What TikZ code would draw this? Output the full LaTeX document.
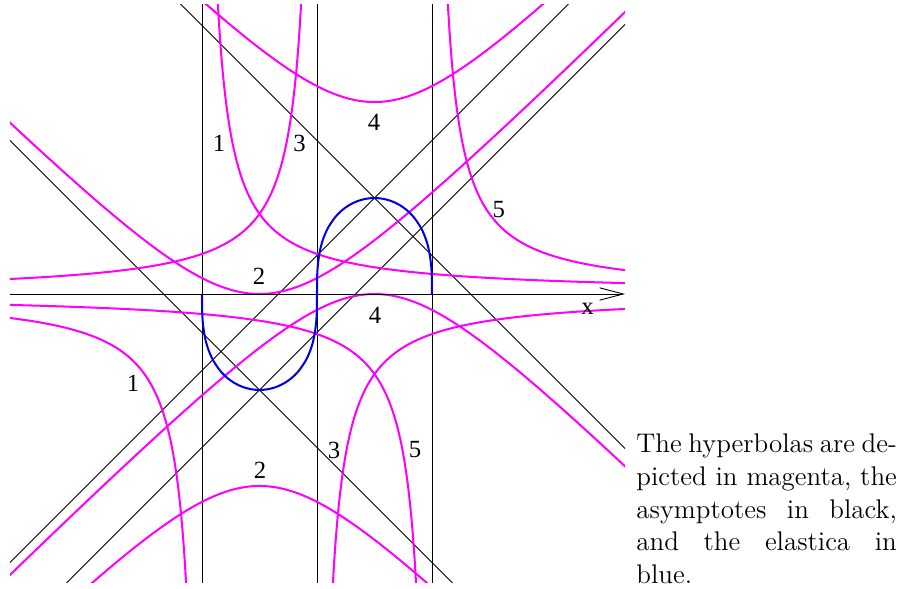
\documentclass[12pt,tikz,border=0pt]{standalone}
\usepackage{fontspec}
\newfontfamily\figfont{Liberation Serif}
\usetikzlibrary{arrows.meta}

\definecolor{hypmag}{RGB}{255,0,255}
\definecolor{elblue}{RGB}{0,0,230}
\newcommand{\elh}{1.66926}   % height of one elastica lobe
\newcommand{\elc}{1.18036}   % xy = \elc^2 for the tilted hyperbolas

\begin{document}
\begin{tikzpicture}[x=0.9cm, y=0.9cm,
    hyp/.style={hypmag, line width=0.9pt},
    asym/.style={black, thin},
    elastica/.style={elblue, line width=0.9pt},
    xaxis/.style={black, thin, -{Straight Barb[length=10.5pt, width=5.5pt]}},
    lbl/.style={font=\figfont\fontsize{11}{13}\selectfont, inner sep=0pt},
    lobe/.pic={
      \draw[elastica] plot[smooth] coordinates {(0,0) (0.0036,0.3118) (0.0143,0.4928)
        (0.0405,0.6956) (0.0743,0.8492) (0.1143,0.9762) (0.1593,1.0852) (0.2088,1.1804)
        (0.3189,1.3383) (0.4413,1.4610) (0.5730,1.5534) (0.7116,1.6181) (0.8547,1.6565)
        (1,1.6693) (1.1453,1.6565) (1.2884,1.6181) (1.4270,1.5534) (1.5587,1.4610)
        (1.6811,1.3383) (1.7912,1.1804) (1.8407,1.0852) (1.8857,0.9762) (1.9257,0.8492)
        (1.9595,0.6956) (1.9857,0.4928) (1.9964,0.3118) (2,0)};
    },
]
\useasboundingbox (-5.513,-5.130) rectangle (10.157,5.113);

% centres of the two upright hyperbolas
\coordinate (ntop) at (1,\elh);
\coordinate (nbot) at (-1,-\elh);

\begin{scope}
\clip (-5.34,-5.01) rectangle (5.357,5.03);

% asymptotes
\foreach \xv in {-2,0,2}
  \draw[asym] (\xv,-5.2) -- (\xv,5.2);
\draw[asym] (ntop) ++(-9,9) -- ++(18,-18);
\draw[asym] (ntop) ++(-9,-9) -- ++(18,18);
\draw[asym] (nbot) ++(-9,9) -- ++(18,-18);
\draw[asym] (nbot) ++(-9,-9) -- ++(18,18);

% hyperbolas 2 and 4
\draw[hyp] plot[variable=\t, domain=-2.2:2.2, samples=100]
  ({-1+\elh*sinh(\t)}, {-\elh+\elh*cosh(\t)});
\draw[hyp] plot[variable=\t, domain=-2.2:2.2, samples=100]
  ({-1+\elh*sinh(\t)}, {-\elh-\elh*cosh(\t)});
\draw[hyp] plot[variable=\t, domain=-2.2:2.2, samples=100]
  ({1+\elh*sinh(\t)}, {\elh+\elh*cosh(\t)});
\draw[hyp] plot[variable=\t, domain=-2.2:2.2, samples=100]
  ({1+\elh*sinh(\t)}, {\elh-\elh*cosh(\t)});

% hyperbolas 1, 3 and 5
\draw[hyp] plot[variable=\t, domain=-1.6:2.0, samples=100]
  ({-2+\elc*exp(\t)}, {\elc*exp(-\t)});
\draw[hyp] plot[variable=\t, domain=-1.6:2.0, samples=100]
  ({-2-\elc*exp(\t)}, {-\elc*exp(-\t)});
\draw[hyp] plot[variable=\t, domain=-1.6:2.0, samples=100]
  ({-\elc*exp(\t)}, {\elc*exp(-\t)});
\draw[hyp] plot[variable=\t, domain=-1.6:2.0, samples=100]
  ({\elc*exp(\t)}, {-\elc*exp(-\t)});
\draw[hyp] plot[variable=\t, domain=-1.6:2.0, samples=100]
  ({2+\elc*exp(\t)}, {\elc*exp(-\t)});
\draw[hyp] plot[variable=\t, domain=-1.6:2.0, samples=100]
  ({2-\elc*exp(\t)}, {-\elc*exp(-\t)});

% the elastica
\pic at (0,0) {lobe};
\pic[rotate=180] at (0,0) {lobe};
\end{scope}

% axis
\draw[xaxis] (-5.34,0) -- (5.357,0);
\node[lbl] (xlbl) at (4.704,-0.261) {x};

% labels
\node[lbl] (l1a) at (-1.704,2.617) {1};
\node[lbl] (l3a) at (-0.304,2.617) {3};
\node[lbl] (l4a) at (0.991,2.991) {4};
\node[lbl] (l2a) at (-1.009,0.313) {2};
\node[lbl] (l5a) at (3.160,1.461) {5};
\node[lbl] (l4b) at (1.009,-0.365) {4};
\node[lbl] (l1b) at (-3.200,-1.548) {1};
\node[lbl] (l3b) at (0.296,-2.713) {3};
\node[lbl] (l5b) at (1.704,-2.713) {5};
\node[lbl] (l2b) at (-0.991,-3.061) {2};

% caption text
\node[anchor=base west, text width=116pt, align=justify, inner sep=0pt] (note)
  at (5.548,-2.765)
  {The hyperbolas are de-\linebreak picted in magenta, the\linebreak
   asymptotes in black,\linebreak and the elastica in\linebreak blue.};

\end{tikzpicture}
\end{document}
